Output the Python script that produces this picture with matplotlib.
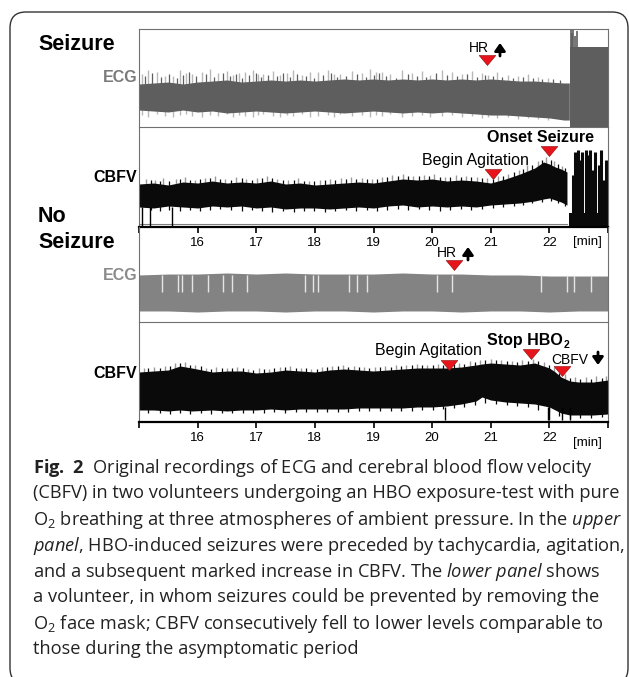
import matplotlib
matplotlib.use('Agg')
import matplotlib.pyplot as plt
from matplotlib.path import Path
from matplotlib.patches import FancyBboxPatch
from matplotlib.transforms import IdentityTransform

W, H, DPI = 629, 677, 100

plt.rcParams['font.family'] = ['Liberation Sans', 'DejaVu Sans']
plt.rcParams['mathtext.fontset'] = 'custom'
plt.rcParams['mathtext.rm'] = 'Open Sans'
plt.rcParams['mathtext.it'] = 'Open Sans:italic'
plt.rcParams['mathtext.bf'] = 'Open Sans:bold'

# ---------------- data (amplitudes in % of each trace strip) ----------------
tick_values = [15, 16, 17, 18, 19, 20, 21, 22, 23]
tick_labels = ['', '16', '17', '18', '19', '20', '21', '22', '']

# Seizure volunteer - ECG envelope
ecg1_t = [15.0, 15.25, 15.5, 15.75, 16.0, 16.25, 16.5, 16.75, 17.0, 17.25, 17.5, 17.75,
          18.0, 18.25, 18.5, 18.75, 19.0, 19.25, 19.5, 19.75, 20.0, 20.25, 20.5, 20.75,
          21.0, 21.25, 21.5, 21.75, 22.0, 22.25, 22.34]
ecg1_top = [43.9, 44.9, 45.9, 43.9, 45.9, 46.9, 48.0, 45.9, 46.9, 48.0, 46.9, 48.0,
            46.9, 48.0, 49.0, 48.0, 49.0, 48.0, 49.0, 48.0, 49.0, 48.0, 49.0, 48.0,
            49.0, 48.0, 46.9, 46.9, 45.9, 44.9, 44.9]
ecg1_bot = [17.3, 16.3, 15.3, 17.3, 15.3, 16.3, 14.3, 15.3, 16.3, 15.3, 14.3, 15.3,
            16.3, 15.3, 14.3, 15.3, 16.3, 15.3, 14.3, 15.3, 14.3, 15.3, 14.3, 13.3,
            12.2, 12.2, 11.2, 10.2, 9.2, 7.1, 7.1]
ecg1_spike_t = [15.05, 15.15, 15.31, 15.45, 15.58, 15.70, 15.80, 15.90, 16.07, 16.21,
                16.35, 16.50, 16.60, 16.70, 16.81, 16.94, 17.03, 17.12, 17.29, 17.40,
                17.52, 17.63, 17.78, 17.92, 18.05, 18.22, 18.32, 18.43, 18.63, 18.80,
                18.94, 19.05, 19.15, 19.28, 19.49, 19.66, 19.83, 19.96, 20.17, 20.34,
                20.51, 20.68, 20.85, 20.95, 21.11, 21.29, 21.46, 21.63, 21.80, 21.97]
ecg1_spike_top = [54, 58, 56, 52, 52, 58, 55, 54, 56, 59, 55, 57, 53, 55, 56, 58, 54, 54, 57, 53,
                  55, 58, 53, 56, 56, 58, 54, 54, 57, 55, 59, 56, 56, 54, 58, 55, 57, 53, 58, 56,
                  54, 57, 55, 53, 56, 53, 52, 54, 51, 50]
ecg1_spike_bot = [12, 10, 13, 11, 10, 12, 13, 11, 10, 12, 11, 13, 10, 12, 11, 10, 12, 13, 11, 10,
                  12, 11, 13, 10, 11, 12, 10, 13, 11, 12, 10, 12, 11, 13, 10, 11, 12, 10, 11, 12,
                  10, 11, 9, 10, 9, 10, 8, 9, 8, 7]
ecg1_dark_t = [15.10, 15.23, 15.38, 15.52, 15.64, 15.75, 15.85, 15.98, 16.14, 16.28,
               16.43, 16.55, 16.65, 16.76, 16.88, 16.99, 17.08, 17.20, 17.35, 17.46,
               17.58, 17.70, 17.85, 17.98, 18.14, 18.27, 18.38, 18.53, 18.72, 18.87,
               19.00, 19.10, 19.22, 19.38, 19.58, 19.75, 19.90, 20.06, 20.26, 20.42,
               20.60, 20.77, 20.90, 21.03, 21.20, 21.38, 21.55, 21.72, 21.88, 22.06, 22.18]
ecg1_dark_top = [52, 55, 51, 54, 50, 53, 56, 52, 54, 51, 55, 52, 54, 50, 53, 55, 51, 53, 52, 55,
                 51, 54, 52, 50, 53, 55, 51, 52, 54, 51, 53, 55, 52, 50, 54, 52, 51, 55, 53, 52,
                 54, 51, 53, 52, 51, 50, 51, 50, 49, 49, 48]
ecg1_seiz_t = [22.36, 23.0]
ecg1_seiz_top = [81.6, 81.6]
ecg1_seiz_spike_t = [22.37, 22.39, 22.41, 22.44, 22.47]
ecg1_seiz_spike_top = [100, 96, 100, 93, 98]

# Seizure volunteer - CBFV envelope
cbfv1_t = [15.0, 15.25, 15.5, 15.75, 16.0, 16.25, 16.5, 16.75, 17.0, 17.25, 17.5, 17.75,
           18.0, 18.25, 18.5, 18.75, 19.0, 19.25, 19.5, 19.75, 20.0, 20.25, 20.5, 20.75,
           21.0, 21.25, 21.5, 21.75, 21.9, 22.0, 22.1, 22.2, 22.3]
cbfv1_top = [43, 44, 42, 45, 44, 46, 44, 45, 44, 46, 43, 44, 42, 43, 44, 45, 44, 46, 48, 47,
             48, 46, 47, 46, 44, 48, 53, 59, 65, 63, 60, 58, 55]
cbfv1_bot = [20, 19, 21, 20, 19, 21, 20, 21, 19, 20, 18, 19, 19, 18, 19, 20, 19, 21, 22, 20,
             21, 20, 21, 20, 22, 23, 24, 26, 28, 29, 27, 25, 22]
cbfv1_spike_t = [15.12, 15.27, 15.41, 15.63, 15.78, 15.95, 16.12, 16.30, 16.47, 16.66, 16.83,
                 17.02, 17.18, 17.36, 17.55, 17.72, 17.90, 18.08, 18.26, 18.44, 18.62, 18.80,
                 18.97, 19.14, 19.32, 19.50, 19.68, 19.86, 20.04, 20.22, 20.40, 20.58, 20.76,
                 20.94, 21.12, 21.30, 21.48, 21.62, 21.80, 21.95, 22.08, 22.22]
cbfv1_spike_top = [48, 47, 49, 48, 50, 47, 49, 51, 48, 50, 48, 49, 51, 48, 47, 49, 46, 47, 48, 49,
                   50, 49, 48, 50, 52, 53, 51, 52, 53, 50, 52, 51, 50, 49, 51, 53, 57, 62, 66, 70,
                   66, 61]
cbfv1_dark_t = [15.20, 15.35, 15.52, 15.70, 15.87, 16.04, 16.21, 16.39, 16.57, 16.75, 16.92,
                17.10, 17.27, 17.45, 17.64, 17.81, 17.99, 18.17, 18.35, 18.53, 18.71, 18.89,
                19.06, 19.23, 19.41, 19.59, 19.77, 19.95, 20.13, 20.31, 20.49, 20.67, 20.85,
                21.03, 21.21, 21.39, 21.55, 21.70, 21.87, 22.02, 22.15, 22.27]
cbfv1_dark_top = [47, 46, 46, 48, 47, 48, 49, 48, 47, 49, 47, 49, 49, 47, 47, 46, 46, 47, 47, 48,
                  48, 48, 48, 50, 51, 51, 51, 51, 50, 50, 50, 50, 49, 48, 51, 55, 58, 62, 67, 67,
                  63, 59]
cbfv1_dark_bot = [17, 16, 17, 16, 17, 16, 17, 18, 17, 16, 17, 16, 15, 16, 15, 16, 16, 15, 16, 17,
                  16, 17, 16, 17, 18, 17, 18, 17, 16, 17, 18, 17, 18, 19, 20, 21, 22, 24, 25, 26,
                  24, 21]
cbfv1_drop_t = [15.05, 15.19, 15.56]
cbfv1_seiz_t = [22.33, 23.0]
cbfv1_seiz_top = [14, 14]
cbfv1_seiz_spike_t = [22.40, 22.44, 22.48, 22.52, 22.56, 22.62, 22.66, 22.70, 22.74, 22.78,
                      22.84, 22.88, 22.93, 22.97]
cbfv1_seiz_spike_top = [52, 75, 77, 67, 75, 77, 72, 77, 57, 75, 62, 77, 47, 67]

# No-seizure volunteer - ECG envelope
ecg2_t = [15.0, 15.5, 16.0, 16.5, 17.0, 17.5, 18.0, 18.5, 19.0, 19.5, 20.0, 20.5, 21.0,
          21.5, 22.0, 22.5, 23.0]
ecg2_top = [49.5, 50.5, 50.5, 51.6, 50.5, 51.6, 50.5, 50.5, 50.5, 51.6, 50.5, 50.5, 49.5,
            49.5, 48.4, 48.4, 48.4]
ecg2_bot = [11.6, 11.6, 10.5, 11.6, 11.6, 10.5, 11.6, 11.6, 10.5, 11.6, 11.6, 10.5, 11.6,
            11.6, 10.5, 11.6, 11.6]
ecg2_gap_t = [15.40, 15.67, 15.73, 15.91, 16.17, 16.44, 16.59, 16.84, 17.84, 17.96, 18.06,
              18.59, 18.72, 18.89, 20.08, 20.34, 21.86, 22.30, 22.42, 22.71]

# No-seizure volunteer - CBFV envelope
cbfv2_t = [15.0, 15.25, 15.5, 15.7, 15.9, 16.25, 16.5, 16.75, 17.0, 17.25, 17.5, 17.75,
           18.0, 18.25, 18.5, 18.75, 19.0, 19.25, 19.5, 19.75, 20.0, 20.25, 20.5, 20.75,
           20.85, 21.0, 21.25, 21.5, 21.75, 22.0, 22.1, 22.2, 22.35, 22.5, 22.75, 23.0]
cbfv2_top = [50, 51, 52, 56, 54, 50, 51, 51, 49, 50, 52, 51, 50, 52, 53, 52, 51, 52, 53, 54,
             54, 54, 55, 57, 58, 59, 58, 57, 59, 54, 50, 45, 41, 40, 40, 42]
cbfv2_bot = [12, 12, 11, 12, 11, 12, 11, 12, 12, 13, 12, 13, 13, 13, 13, 14, 14, 14, 14, 15,
             15, 16, 18, 21, 25, 22, 20, 19, 18, 15, 12, 9, 7, 7, 7, 8]
cbfv2_spike_t = [15.08, 15.25, 15.45, 15.62, 15.78, 15.95, 16.14, 16.32, 16.50, 16.68, 16.86,
                 17.04, 17.22, 17.40, 17.58, 17.76, 17.94, 18.12, 18.30, 18.48, 18.66, 18.84,
                 19.02, 19.20, 19.38, 19.56, 19.74, 19.92, 20.10, 20.28, 20.46, 20.64, 20.82,
                 21.00, 21.18, 21.36, 21.54, 21.72, 21.90, 22.08, 22.26, 22.44, 22.62, 22.80,
                 22.96]
cbfv2_spike_top = [54, 55, 56, 59, 60, 57, 54, 55, 54, 55, 53, 54, 53, 55, 56, 54, 53, 55, 56, 57,
                   56, 55, 55, 56, 57, 57, 58, 57, 58, 59, 59, 61, 62, 63, 62, 61, 62, 63, 60, 55,
                   48, 45, 45, 46, 46]
cbfv2_dark_t = [15.16, 15.35, 15.53, 15.70, 15.87, 16.05, 16.23, 16.41, 16.59, 16.77, 16.95,
                17.13, 17.31, 17.49, 17.67, 17.85, 18.03, 18.21, 18.39, 18.57, 18.75, 18.93,
                19.11, 19.29, 19.47, 19.65, 19.83, 20.01, 20.19, 20.37, 20.55, 20.73, 20.91,
                21.09, 21.27, 21.45, 21.63, 21.81, 21.99, 22.17, 22.35, 22.53, 22.71, 22.89]
cbfv2_dark_top = [54, 54, 56, 59, 57, 56, 53, 54, 54, 54, 52, 53, 54, 55, 54, 54, 53, 55, 56, 55,
                  55, 54, 55, 55, 56, 57, 57, 57, 57, 58, 58, 60, 62, 62, 61, 60, 61, 61, 57, 49,
                  44, 43, 43, 44]
cbfv2_dark_bot = [9, 9, 8, 9, 8, 9, 8, 9, 9, 9, 9, 9, 10, 9, 10, 10, 10, 10, 10, 10,
                  11, 11, 11, 11, 11, 11, 12, 12, 13, 14, 15, 17, 19, 18, 17, 16, 15, 12, 10, 6,
                  4, 4, 4, 5]
cbfv2_drop_t = [20.22, 21.97, 22.0, 22.22, 22.36]

# event markers: (time, height in strip %)
ev1_t = [20.94]; ev1_y = [68.4]                 # HR up (seizure ECG)
ev2_t = [21.04, 22.0]; ev2_y = [53, 76]         # begin agitation, onset seizure
ev3_t = [20.38]; ev3_y = [60]                   # HR up (no-seizure ECG)
ev4_t = [20.29, 21.69, 22.22]; ev4_y = [57, 68, 51]  # agitation, stop HBO2, CBFV down

# ---------------- figure ----------------
fig = plt.figure(figsize=(W / DPI, H / DPI), dpi=DPI)

X0, X1 = 139, 608
def add_ax(y0, y1):
    ax = fig.add_axes([X0 / W, 1 - y1 / H, (X1 - X0) / W, (y1 - y0) / H])
    ax.set_facecolor('none')
    ax.set_xlim(15, 23)
    ax.set_ylim(0, 100)
    ax.set_yticks([])
    ax.set_xticks([])
    for s in ax.spines.values():
        s.set_color('#707070')
        s.set_linewidth(0.8)
    return ax

ax1 = add_ax(29, 127)
ax2 = add_ax(127, 227)
ax3 = add_ax(227, 322)
ax4 = add_ax(322, 422)
ax2.spines['top'].set_visible(False)
ax3.spines['top'].set_visible(False)
ax4.spines['top'].set_visible(False)

for ax in (ax2, ax4):
    ax.spines['bottom'].set_color('black')
    ax.spines['bottom'].set_linewidth(1.6)
    ax.set_xticks(tick_values)
    ax.set_xticklabels(tick_labels)
    ax.tick_params(axis='x', direction='out', length=4.5, width=1.2, pad=2.5,
                   labelsize=9.5, colors='black')

ECG1_C = '#5e5e5e'
ECG2_C = '#838383'
SPK_C = '#b8b8b8'
BLK = '#0a0a0a'

# seizure ECG
ax1.vlines(ecg1_spike_t, 30, ecg1_spike_top, colors=SPK_C, lw=1.0, zorder=1)
ax1.vlines(ecg1_spike_t, 30, ecg1_spike_bot, colors=SPK_C, lw=1.0, zorder=1)
ax1.fill_between(ecg1_t, ecg1_bot, ecg1_top, color=ECG1_C, lw=0, zorder=2)
ax1.vlines(ecg1_dark_t, 30, ecg1_dark_top, colors=ECG1_C, lw=0.9, zorder=2)
ax1.fill_between(ecg1_seiz_t, 0, ecg1_seiz_top, color=ECG1_C, lw=0, zorder=2)
ax1.vlines(ecg1_seiz_spike_t, 50, ecg1_seiz_spike_top, colors=ECG1_C, lw=1.2, zorder=2)

# seizure CBFV
ax2.vlines(cbfv1_spike_t, 30, cbfv1_spike_top, colors='#9a9a9a', lw=1.0, zorder=1)
ax2.fill_between(cbfv1_t, cbfv1_bot, cbfv1_top, color=BLK, lw=0, zorder=2)
ax2.vlines(cbfv1_dark_t, cbfv1_dark_bot, cbfv1_dark_top, colors=BLK, lw=0.9, zorder=2)
ax2.vlines(cbfv1_drop_t, 1, 20, colors='black', lw=1.0, zorder=2)
ax2.plot([15, 22.3], [3.5, 3.5], color='#808080', lw=0.8, zorder=1)
ax2.fill_between(cbfv1_seiz_t, 1, cbfv1_seiz_top, color=BLK, lw=0, zorder=2)
ax2.vlines(cbfv1_seiz_spike_t, 5, cbfv1_seiz_spike_top, colors=BLK, lw=2.2, zorder=2)

# no-seizure ECG
ax3.fill_between(ecg2_t, ecg2_bot, ecg2_top, color=ECG2_C, lw=0, zorder=2)
ax3.vlines(ecg2_gap_t, 32, 49, colors='#e6e6e6', lw=1.0, zorder=3)

# no-seizure CBFV
ax4.vlines(cbfv2_spike_t, 30, cbfv2_spike_top, colors='#9a9a9a', lw=1.0, zorder=1)
ax4.fill_between(cbfv2_t, cbfv2_bot, cbfv2_top, color=BLK, lw=0, zorder=2)
ax4.vlines(cbfv2_dark_t, cbfv2_dark_bot, cbfv2_dark_top, colors=BLK, lw=0.9, zorder=2)
ax4.vlines(cbfv2_drop_t, 2, 15, colors='black', lw=1.0, zorder=2)

# event markers (flattened down triangles)
tri = Path([(-1, 0.6), (1, 0.6), (0, -0.6), (-1, 0.6)],
           [Path.MOVETO, Path.LINETO, Path.LINETO, Path.CLOSEPOLY])
mk = dict(marker=tri, markersize=12, color='#e8141b', markeredgecolor='#8a0a0a',
          markeredgewidth=0.4, linestyle='none', zorder=5, clip_on=False)
ax1.plot(ev1_t, ev1_y, **mk)
ax2.plot(ev2_t, ev2_y, **mk)
ax3.plot(ev3_t, ev3_y, **mk)
ax4.plot(ev4_t, ev4_y, **mk)

# ---------------- texts ----------------
def ftext(x, y, s, **kw):
    kw.setdefault('va', 'center')
    return fig.text(x / W, 1 - y / H, s, **kw)

def farrow(x, y_tail, y_head):
    fig.add_artist(matplotlib.patches.FancyArrowPatch(
        (x, H - y_tail), (x, H - y_head), transform=IdentityTransform(),
        arrowstyle='-|>,head_width=3.2,head_length=4.5', lw=2.0, color='black',
        shrinkA=0, shrinkB=0, mutation_scale=1))

ftext(38, 45, 'Seizure', fontsize=15.5, weight='bold')
ftext(38, 217, 'No', fontsize=15.5, weight='bold')
ftext(38, 242, 'Seizure', fontsize=15.5, weight='bold')
ftext(137, 78, 'ECG', fontsize=11.5, weight='bold', color='#7a7a7a', ha='right')
ftext(137, 177, 'CBFV', fontsize=11.5, weight='bold', ha='right')
ftext(137, 276, 'ECG', fontsize=11.5, weight='bold', color='#8a8a8a', ha='right')
ftext(137, 373, 'CBFV', fontsize=11.5, weight='bold', ha='right')

ftext(469, 48, 'HR', fontsize=10)
farrow(500, 56, 43)
ftext(487, 138, 'Onset Seizure', fontsize=11.5, weight='bold')
ftext(422, 161, 'Begin Agitation', fontsize=11.5)
ftext(437, 253, 'HR', fontsize=10)
farrow(468, 260, 247)
ftext(375, 351, 'Begin Agitation', fontsize=11.5)
ftext(487, 341, 'Stop HBO', fontsize=11.5, weight='bold')
ftext(566, 345, '2', fontsize=7.5, weight='bold', ha='center')
ftext(551, 360, 'CBFV', fontsize=10)
farrow(598, 352, 365)
ftext(587, 242, '[min]', fontsize=9.5, ha='center')
ftext(587, 443, '[min]', fontsize=9.5, ha='center')

# caption
cap_lines = [
    r'$\mathbf{Fig.\ 2}$  Original recordings of ECG and cerebral blood flow velocity',
    '(CBFV) in two volunteers undergoing an HBO exposure-test with pure',
    r'O$_2$ breathing at three atmospheres of ambient pressure. In the $\mathit{upper}$',
    r'$\mathit{panel}$, HBO-induced seizures were preceded by tachycardia, agitation,',
    r'and a subsequent marked increase in CBFV. The $\mathit{lower\ panel}$ shows',
    'a volunteer, in whom seizures could be prevented by removing the',
    r'O$_2$ face mask; CBFV consecutively fell to lower levels comparable to',
    'those during the asymptomatic period',
]
cap_font = 'Open Sans'
probe = fig.text(0, 0, cap_lines[1], fontsize=12, family=cap_font)
fig.canvas.draw()
w = probe.get_window_extent(fig.canvas.get_renderer()).width
probe.remove()
cap_size = 12 * 584 / w
for i, line in enumerate(cap_lines):
    ftext(33, 465 + 26 * i, line, fontsize=cap_size, family=cap_font,
          va='center_baseline', color='#222222')

# outer rounded frame
frame = FancyBboxPatch((10, H - 684), 618, 672,
                       boxstyle='round,pad=0,rounding_size=16',
                       transform=IdentityTransform(), fill=False,
                       edgecolor='#333333', lw=1.0)
fig.patches.append(frame)

fig.savefig('out.png', dpi=DPI)
